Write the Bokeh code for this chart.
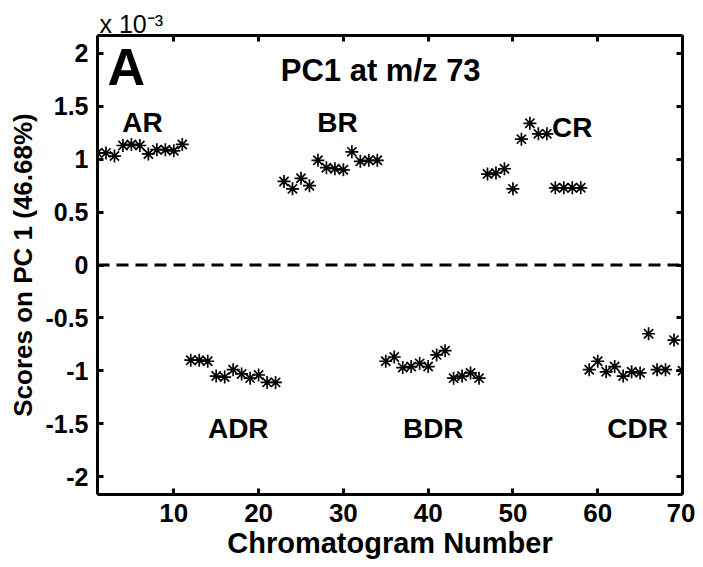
from bokeh.plotting import figure
from bokeh.models import LinearAxis, FixedTicker, Span, Label, Range1d, ColumnDataSource, Title
from bokeh.embed import file_html
from bokeh.resources import INLINE
from bokeh.core.properties import value

# ---- data (scores on PC1, x 10^-3) ----
ar_x = list(range(1, 12))
ar_y = [1.06, 1.06, 1.03, 1.13, 1.14, 1.13, 1.05, 1.09, 1.09, 1.08, 1.14]
adr_x = list(range(12, 23))
adr_y = [-0.90, -0.90, -0.91, -1.05, -1.06, -0.99, -1.03, -1.07, -1.04, -1.11, -1.11]
br_x = list(range(23, 35))
br_y = [0.79, 0.72, 0.82, 0.75, 0.99, 0.92, 0.91, 0.90, 1.07, 0.98, 0.99, 0.99]
bdr_x = list(range(35, 47))
bdr_y = [-0.91, -0.87, -0.97, -0.96, -0.93, -0.96, -0.85, -0.81, -1.07, -1.05, -1.02, -1.07]
cr_x = list(range(47, 59))
cr_y = [0.86, 0.87, 0.91, 0.72, 1.19, 1.34, 1.24, 1.24, 0.73, 0.73, 0.73, 0.73]
cdr_x = list(range(59, 71))
cdr_y = [-0.99, -0.91, -1.01, -0.96, -1.05, -1.01, -1.02, -0.65, -0.99, -0.99, -0.71, -1.00]

x_ticks = [10, 20, 30, 40, 50, 60, 70]
x_tick_labels = ["10", "20", "30", "40", "50", "60", "70"]
y_ticks = [-2, -1.5, -1, -0.5, 0, 0.5, 1, 1.5, 2]
y_tick_labels = ["-2", "-1.5", "-1", "-0.5", "0", "0.5", "1", "1.5", "2"]

group_names = ["AR", "BR", "CR", "ADR", "BDR", "CDR"]
# label anchor positions (layout)
group_label_x = [6.3, 29.3, 57.0, 17.6, 40.6, 64.7]
group_label_y = [1.35, 1.35, 1.30, -1.55, -1.55, -1.55]

FONT = "Liberation Sans"

p = figure(frame_width=585, frame_height=459,
           x_range=Range1d(1, 70), y_range=Range1d(-2.17, 2.17),
           output_backend="svg", toolbar_location=None,
           x_axis_label="Chromatogram Number",
           y_axis_label="Scores on PC 1 (46.68%)",
           min_border_left=97, min_border_top=35, min_border_right=13,
           min_border_bottom=60)
p.xgrid.visible = False
p.ygrid.visible = False
p.outline_line_color = None
p.background_fill_color = "white"
p.border_fill_color = "white"

p.add_layout(LinearAxis(), "above")
p.add_layout(LinearAxis(), "right")

for ax in p.xaxis:
    ax.ticker = FixedTicker(ticks=x_ticks)
    ax.major_label_overrides = {t: l for t, l in zip(x_ticks, x_tick_labels)}
for ax in p.yaxis:
    ax.ticker = FixedTicker(ticks=y_ticks)
    ax.major_label_overrides = {t: l for t, l in zip(y_ticks, y_tick_labels)}

for ax in p.axis:
    ax.axis_line_width = 3
    ax.axis_line_color = "black"
    ax.major_tick_in = 6
    ax.major_tick_out = 0
    ax.major_tick_line_width = 3
    ax.minor_tick_line_color = None
    ax.major_label_text_font = FONT
    ax.major_label_text_font_style = "bold"
    ax.major_label_text_font_size = "26px"
    ax.major_label_text_color = "black"
    ax.axis_label_text_font = FONT
    ax.axis_label_text_font_style = "bold"
    ax.axis_label_text_color = "black"

p.left[0].major_label_text_font_size = "25px"
p.below[0].major_label_standoff = 9
p.below[0].axis_label_text_font_size = "29px"
p.below[0].axis_label_standoff = 2
p.left[0].major_label_standoff = 9
p.left[0].axis_label_text_font_size = "26px"
p.left[0].axis_label_standoff = 4
for ax in (p.above[0], p.right[0]):
    ax.major_label_text_font_size = "0px"
    ax.major_label_text_color = None
    ax.major_label_standoff = 0

# exponent note above the plot
p.add_layout(Title(text="x 10\u207b\u00b3", align="left", offset=2, standoff=-4,
                   text_font=FONT, text_font_style="normal",
                   text_font_size="25px", text_color="black"), "above")

p.add_layout(Span(location=0, dimension="width", line_color="black",
                  line_width=3, line_dash="12 7"))

all_x = ar_x + adr_x + br_x + bdr_x + cr_x + cdr_x
all_y = ar_y + adr_y + br_y + bdr_y + cr_y + cdr_y
src = ColumnDataSource(dict(x=all_x, y=all_y))
p.scatter("x", "y", source=src, marker="asterisk", size=13,
          line_color="black", line_width=1.7)

lab_src = ColumnDataSource(dict(x=group_label_x, y=group_label_y, t=group_names))
p.text("x", "y", text="t", source=lab_src, text_font=value(FONT),
       text_font_style="bold", text_font_size=value("28px"),
       text_align="center", text_baseline="middle", text_color="black")

p.add_layout(Label(x=4.4, y=1.87, text="A", text_font=FONT, text_font_style="bold",
                   text_font_size="52px", text_align="center",
                   text_baseline="middle", text_color="black"))
p.add_layout(Label(x=34.4, y=1.84, text="PC1 at m/z 73", text_font=FONT,
                   text_font_style="bold", text_font_size="31px",
                   text_align="center", text_baseline="middle", text_color="black"))

open("out.html", "w").write(file_html(p, INLINE))
